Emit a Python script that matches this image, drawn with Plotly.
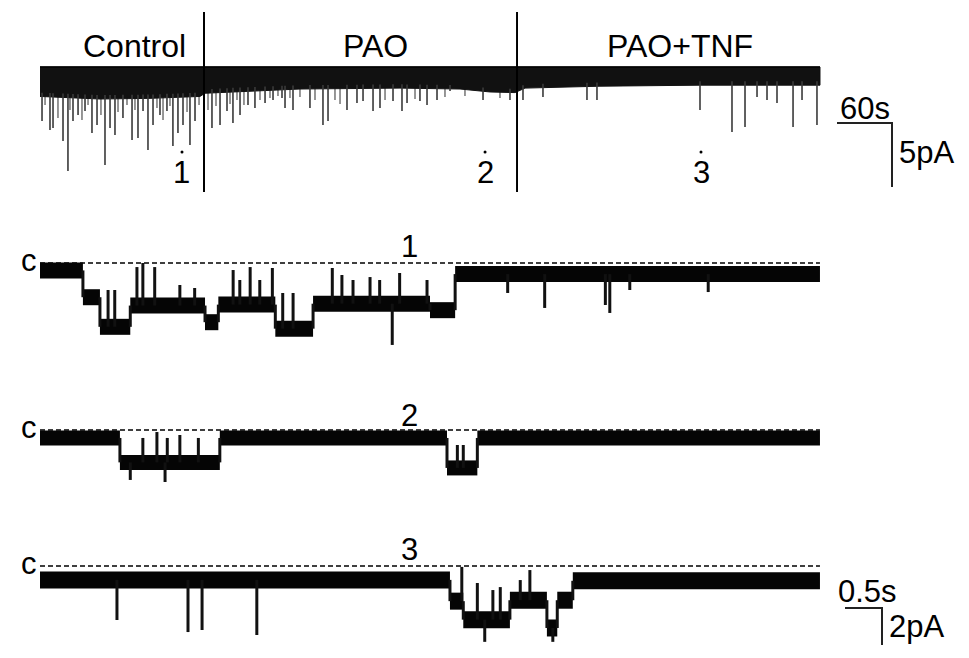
import numpy as np
import plotly.graph_objects as go

# ======================= DATA =======================
# --- long recording (top): time in s, current in pA, 0 = closed level ---
long_t_end = 850.9
long_env_t = [0.0, 65.5, 120.0, 174.5, 180.0, 218.2, 283.6, 392.7, 458.2, 490.9, 518.2, 529.1, 610.9, 720.0, 850.9]
long_env_i = [-2.30, -2.50, -2.45, -2.30, -2.05, -1.90, -1.72, -1.65, -1.72, -1.95, -2.00, -1.65, -1.50, -1.42, -1.42]
# larger openings
long_spike_t = [2.2, 10.9, 14.2, 25.1, 30.5, 36.0, 41.5, 49.1, 56.7, 62.2, 70.9, 76.4, 81.8, 90.5,
                100.4, 106.9, 112.4, 117.8, 123.3, 130.9, 138.5, 145.0, 150.5, 156.0, 163.6, 169.1,
                187.6, 196.4, 204.0, 210.5, 218.2, 226.9, 234.5, 245.5, 254.2, 264.0, 267.3, 276.0,
                294.5, 308.7, 314.2, 334.9, 345.8, 352.4, 363.3, 370.9, 385.1, 394.9, 400.4, 414.5,
                422.2, 433.1, 447.3, 483.3, 512.7, 526.9, 548.7, 596.7, 607.6, 720.0, 754.9, 769.1,
                782.2, 793.1, 804.0, 821.5, 831.3, 847.6]
long_spike_i = [-4.22, -4.92, -4.77, -5.78, -8.13, -4.22, -3.75, -3.44, -5.16, -4.53, -7.66, -4.77,
                -5.31, -3.98, -5.70, -5.55, -3.44, -6.48, -4.53, -3.75, -3.44, -6.17, -5.16, -4.53,
                -6.09, -4.22, -4.77, -4.53, -3.44, -4.38, -3.75, -2.97, -3.20, -2.81, -2.58, -2.42,
                -3.20, -3.36, -3.20, -4.53, -4.22, -3.36, -2.81, -2.66, -3.44, -3.20, -2.66, -3.44,
                -2.81, -2.66, -2.97, -2.58, -1.88, -2.58, -2.58, -2.58, -2.34, -2.58, -2.58, -3.36,
                -5.08, -4.69, -2.34, -2.58, -2.81, -4.69, -2.58, -4.53]
# smaller openings
long_minor_t = [5.5, 19.6, 32.7, 45.8, 52.4, 66.5, 85.1, 94.9, 103.6, 127.6, 134.2, 141.8, 160.4,
                173.5, 183.3, 192.0, 207.3, 214.9, 222.5, 240.0, 250.9, 259.6, 272.7, 283.6, 300.0,
                321.8, 327.3, 376.4, 409.1, 441.8, 463.6, 501.8]
long_minor_i = [-2.97, -3.98, -3.36, -4.14, -2.97, -3.75, -3.52, -2.97, -3.36, -3.20, -4.14, -3.05,
                -3.52, -2.97, -3.36, -3.05, -2.89, -2.58, -2.97, -2.58, -2.42, -2.27, -2.42, -2.34,
                -2.58, -2.58, -2.89, -2.58, -2.50, -2.34, -2.27, -2.42]
period_names = ["Control", "PAO", "PAO+TNF"]
period_label_t = [161.0, 365.5, 698.0]
period_bounds_t = [178.9, 520.4]
sample_marks = ["1", "2", "3"]
sample_mark_t = [154.9, 485.5, 721.1]
long_scale_t = 60.0    # s
long_scale_i = 5.0     # pA

# --- expanded records 1-3: time in s, current in pA, 0 = closed level "c" ---
rec_end_t = 10.54
rec1_edges = [0.0, 0.58, 0.81, 1.22, 2.23, 2.41, 3.18, 3.69, 5.27, 5.61, 10.54]
rec1_levels = [-0.40, -1.85, -3.45, -2.30, -3.20, -2.25, -3.55, -2.20, -2.55, -0.60]
rec1_evt_t = [0.92, 1.01, 1.31, 1.39, 1.55, 1.89, 2.09, 2.61, 2.70, 2.84, 2.97, 3.14, 3.28, 3.42,
              3.95, 4.08, 4.23, 4.46, 4.59, 4.76, 4.86, 5.23, 6.32, 6.82, 7.64, 7.70, 7.97, 9.03]
rec1_evt_i = [-1.46, -1.46, -0.22, 0.00, -0.22, -1.19, -1.35, -0.38, -0.92, -0.22, -0.92, -0.27,
              -1.62, -1.62, -0.27, -0.65, -0.92, -0.76, -0.92, -4.43, -0.54, -0.92, -1.62, -2.43,
              -2.27, -2.70, -1.46, -1.57]

rec2_edges = [0.0, 1.08, 2.43, 5.50, 5.91, 10.54]
rec2_levels = [-0.43, -1.75, -0.43, -2.05, -0.43]
rec2_evt_t = [1.22, 1.39, 1.58, 1.69, 1.72, 1.89, 2.14, 5.64, 5.72]
rec2_evt_i = [-2.70, -0.43, -0.11, -2.81, -0.43, -0.27, -0.43, -0.81, -0.81]

rec3_edges = [0.0, 5.54, 5.72, 6.35, 6.85, 6.99, 7.20, 10.54]
rec3_levels = [-0.75, -1.90, -2.90, -1.85, -3.35, -1.85, -0.80]
rec3_evt_t = [1.04, 2.00, 2.19, 2.93, 5.70, 5.91, 6.01, 6.12, 6.22, 6.49, 6.62, 6.93]
rec3_evt_i = [-2.92, -3.57, -3.46, -3.73, -0.05, -0.92, -4.10, -1.30, -1.14, -0.76, -0.22, -4.10]

rec_scale_t = 0.5   # s
rec_scale_i = 2.0   # pA

# ======================= LAYOUT CONSTANTS =======================
PAGE_W, PAGE_H = 969, 658
OFF = 8                       # default page margin around the plot div
W, H = PAGE_W - OFF, PAGE_H - OFF
FONT = "Liberation Sans, Arial, Helvetica, sans-serif"
FS = 31
BLACK = "#000000"
BAND_W = [16, 15, 17]

# page-pixel geometry of each panel
long_geom = dict(top=8, bot=200, zero=67, ppu=12.8, x0=40, ppx=55 / 60)
rec_geoms = [dict(top=230, bot=360, zero=263, ppu=18.5, x0=40, ppx=74),
             dict(top=397, bot=497, zero=430, ppu=18.5, x0=40, ppx=74),
             dict(top=533, bot=658, zero=566, ppu=18.5, x0=40, ppx=74)]


def xaxis_for(g):
    return dict(domain=[0, 1], range=[(OFF - g["x0"]) / g["ppx"], (PAGE_W - g["x0"]) / g["ppx"]],
                visible=False, fixedrange=True)


def yaxis_for(g, xname):
    return dict(domain=[max(0.0, 1 - (g["bot"] - OFF) / H), 1 - (g["top"] - OFF) / H],
                range=[-(g["bot"] - g["zero"]) / g["ppu"], (g["zero"] - g["top"]) / g["ppu"]],
                visible=False, fixedrange=True, anchor=xname)


fig = go.Figure()

# ======================= TOP: long recording =======================
g = long_geom
# minor openings (behind)
mx, my = [], []
for t, i in zip(long_minor_t, long_minor_i):
    mx += [t, t, None]
    my += [-1.0, i, None]
fig.add_trace(go.Scatter(x=mx, y=my, mode="lines", line=dict(color="#6a6a6a", width=1.4),
                         xaxis="x", yaxis="y", hoverinfo="skip"))
# noise band (closed level down to lower envelope)
band_x = list(long_env_t) + list(long_env_t[::-1])
band_y = [0.0] * len(long_env_t) + list(long_env_i[::-1])
fig.add_trace(go.Scatter(x=band_x, y=band_y, fill="toself", fillcolor="#111111",
                         line=dict(color="#111111", width=1), mode="lines",
                         xaxis="x", yaxis="y", hoverinfo="skip"))
fig.add_trace(go.Scatter(x=[0, long_t_end], y=[0, 0], mode="lines",
                         line=dict(color=BLACK, width=1.6), xaxis="x", yaxis="y", hoverinfo="skip"))
# larger openings
sx, sy = [], []
for t, i in zip(long_spike_t, long_spike_i):
    base = float(np.interp(t, long_env_t, long_env_i))
    sx += [t, t, None]
    sy += [base + 0.3, i, None]
fig.add_trace(go.Scatter(x=sx, y=sy, mode="lines", line=dict(color="#3a3a3a", width=1.6),
                         xaxis="x", yaxis="y", hoverinfo="skip"))
# period dividers
div_top = (g["zero"] - 12) / g["ppu"]
div_bot = -(192 - g["zero"]) / g["ppu"]
dx, dy = [], []
for tb in period_bounds_t:
    dx += [tb, tb, None]
    dy += [div_top, div_bot, None]
fig.add_trace(go.Scatter(x=dx, y=dy, mode="lines", line=dict(color=BLACK, width=2),
                         xaxis="x", yaxis="y", hoverinfo="skip"))
# sample-point dots
mark_dot_i = -(152 - g["zero"]) / g["ppu"]
fig.add_trace(go.Scatter(x=sample_mark_t, y=[mark_dot_i] * 3, mode="markers",
                         marker=dict(color=BLACK, size=3), xaxis="x", yaxis="y", hoverinfo="skip"))
# scale bar 60 s / 5 pA
sb_t0 = (837 - g["x0"]) / g["ppx"]
sb_i0 = -(123 - g["zero"]) / g["ppu"]
fig.add_trace(go.Scatter(x=[sb_t0, sb_t0 + long_scale_t, sb_t0 + long_scale_t],
                         y=[sb_i0, sb_i0, sb_i0 - long_scale_i], mode="lines",
                         line=dict(color="#222222", width=2), xaxis="x", yaxis="y", hoverinfo="skip"))

annotations = []


def add_text(txt, x, y, xref, yref, xanchor="center", yanchor="middle", size=FS):
    annotations.append(dict(text=txt, x=x, y=y, xref=xref, yref=yref, showarrow=False,
                            xanchor=xanchor, yanchor=yanchor,
                            font=dict(family=FONT, size=size, color=BLACK)))


lab_i = (g["zero"] - 46) / g["ppu"]
add_text(period_names[0], period_label_t[0], lab_i, "x", "y", xanchor="right", size=32)
add_text(period_names[1], period_label_t[1], lab_i, "x", "y", size=32)
add_text(period_names[2], period_label_t[2], lab_i, "x", "y", size=32)
num_i = -(172 - g["zero"]) / g["ppu"]
for lbl, t in zip(sample_marks, sample_mark_t):
    add_text(lbl, t, num_i, "x", "y")
add_text("60s", sb_t0 + long_scale_t / 2, -(108 - g["zero"]) / g["ppu"], "x", "y")
add_text("5pA", sb_t0 + long_scale_t + 5, -(152 - g["zero"]) / g["ppu"], "x", "y", xanchor="left")

# ======================= expanded records =======================
recs = [(rec1_edges, rec1_levels, rec1_evt_t, rec1_evt_i),
        (rec2_edges, rec2_levels, rec2_evt_t, rec2_evt_i),
        (rec3_edges, rec3_levels, rec3_evt_t, rec3_evt_i)]
for k, (edges, levels, et, ei) in enumerate(recs):
    xa, ya = "x%d" % (k + 2), "y%d" % (k + 2)
    rg = rec_geoms[k]
    # closed-level reference (dashed)
    fig.add_trace(go.Scatter(x=[0, rec_end_t], y=[0, 0], mode="lines",
                             line=dict(color=BLACK, width=1.5, dash="5px,3px"),
                             xaxis=xa, yaxis=ya, hoverinfo="skip"))
    # dwell levels (thick = noise band), transitions thin
    bx, by, cx, cy = [], [], [], []
    for j, lv in enumerate(levels):
        bx += [edges[j], edges[j + 1], None]
        by += [lv, lv, None]
        if j > 0:
            cx += [edges[j], edges[j], None]
            cy += [levels[j - 1], lv, None]
    fig.add_trace(go.Scatter(x=bx, y=by, mode="lines",
                             line=dict(color="#050505", width=BAND_W[k]),
                             xaxis=xa, yaxis=ya, hoverinfo="skip"))
    # brief transitions (flickers / openings)
    for t, i in zip(et, ei):
        idx = int(np.searchsorted(edges, t, side="right") - 1)
        base = levels[min(max(idx, 0), len(levels) - 1)]
        cx += [t, t, None]
        cy += [base, i, None]
    fig.add_trace(go.Scatter(x=cx, y=cy, mode="lines", line=dict(color="#111111", width=3),
                             xaxis=xa, yaxis=ya, hoverinfo="skip"))
    # "c" label and record number
    add_text("c", -(rg["x0"] - 29) / rg["ppx"], 0.15, xa, ya)
    add_text(sample_marks[k], (409 - rg["x0"]) / rg["ppx"],
             (rg["zero"] - [246, 415, 549][k]) / rg["ppu"], xa, ya)

# scale bar 0.5 s / 2 pA (in record 3 axes)
rg = rec_geoms[2]
rb_t0 = (845 - rg["x0"]) / rg["ppx"]
rb_i0 = -(608 - rg["zero"]) / rg["ppu"]
fig.add_trace(go.Scatter(x=[rb_t0, rb_t0 + rec_scale_t, rb_t0 + rec_scale_t],
                         y=[rb_i0, rb_i0, rb_i0 - rec_scale_i], mode="lines",
                         line=dict(color="#222222", width=2), xaxis="x4", yaxis="y4", hoverinfo="skip"))
add_text("0.5s", (867 - rg["x0"]) / rg["ppx"], -(591 - rg["zero"]) / rg["ppu"], "x4", "y4")
add_text("2pA", rb_t0 + rec_scale_t + 0.07, -(626 - rg["zero"]) / rg["ppu"], "x4", "y4", xanchor="left")

fig.update_layout(
    width=W, height=H, margin=dict(l=0, r=0, t=0, b=0),
    paper_bgcolor="white", plot_bgcolor="white", showlegend=False,
    xaxis=xaxis_for(long_geom), yaxis=yaxis_for(long_geom, "x"),
    xaxis2=dict(xaxis_for(rec_geoms[0]), anchor="y2"), yaxis2=yaxis_for(rec_geoms[0], "x2"),
    xaxis3=dict(xaxis_for(rec_geoms[1]), anchor="y3"), yaxis3=yaxis_for(rec_geoms[1], "x3"),
    xaxis4=dict(xaxis_for(rec_geoms[2]), anchor="y4"), yaxis4=yaxis_for(rec_geoms[2], "x4"),
    annotations=annotations,
)

fig.write_html("out.html", config={"displayModeBar": False})
